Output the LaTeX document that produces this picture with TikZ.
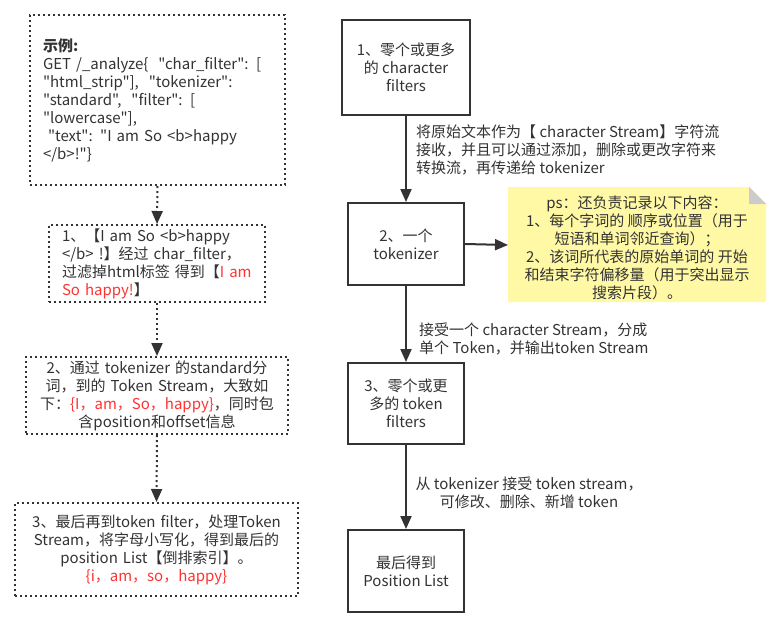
\documentclass[tikz,border=0pt]{standalone}
\usepackage{fontspec}
\setmainfont{Noto Sans CJK SC}[Ligatures=TeXOff]
\usetikzlibrary{arrows.meta,positioning}
\definecolor{txt}{HTML}{333333}
\definecolor{lin}{HTML}{333333}
\definecolor{redt}{HTML}{FF3333}
\definecolor{notey}{HTML}{FFF9A6}
\definecolor{foldg}{HTML}{CCCCCC}
\newcommand{\rd}[1]{\textcolor{redt}{#1}}
\tikzset{
  base/.style={font=\fontsize{15}{18}\selectfont, text=txt},
  dotbox/.style={base, draw=lin, line width=2pt, dash pattern=on 2pt off 3pt, inner sep=0pt},
  solidbox/.style={base, draw=lin, line width=2pt, align=center, inner sep=0pt},
  lbl/.style={base, inner sep=0pt},
  dotarrow/.style={draw=lin, line width=2pt, dash pattern=on 2pt off 3pt, -{Triangle[length=13pt,width=11pt]}},
  solarrow/.style={draw=lin, line width=2pt, -{Triangle[length=13pt,width=11pt]}},
}
\begin{document}
\begin{tikzpicture}[x=1pt,y=-1pt]
\useasboundingbox[fill=white] (0,0) rectangle (784,629);
% left column
\node[dotbox, minimum width=255pt, minimum height=170pt, text width=229pt, align=left] (l0) at (157.5,100)
 {\textbf{示例:}\\GET /\_analyze\{\ \ "char\_filter": [\\"html\_strip"],\ \ "tokenizer":\\"standard",\ \ "filter": [\\"lowercase"],\\\ "text": "I am So <b>happy\\</b>!"\}};
\node[dotbox, minimum width=216pt, minimum height=77pt, text width=190pt, align=left] (l1) at (157,263.5)
 {1、【I am So <b>happy\\</b> !】经过 char\_filter，\\过滤掉html标签 得到【\rd{I am}\\\rd{So happy!}】};
\node[dotbox, minimum width=262pt, minimum height=77pt, text width=256pt, align=center] (l2) at (157,395.5)
 {2、通过 tokenizer 的standard分\\词，到的 Token Stream，大致如\\下：\rd{\{I，am，So，happy\}}，同时包\\含position和offset信息};
\node[dotbox, minimum width=283pt, minimum height=93pt, text width=277pt, align=center] (l3) at (156.5,549.5)
 {3、最后再到token filter，处理Token\\Stream，将字母小写化，得到最后的\\position List【倒排索引】。\\\rd{\{i，am，so，happy\}}};
\draw[dotarrow] (l0.south) -- (l1.north);
\draw[dotarrow] (l1.south) -- (l2.north);
\draw[dotarrow] (l2.south) -- (l3.north);
% right column
\node[solidbox, minimum width=128pt, minimum height=95pt] (a) at (406,67.5) {1、零个或更多\\的 character\\filters};
\node[solidbox, minimum width=116pt, minimum height=82pt] (b) at (406,244) {2、一个\\tokenizer};
\node[solidbox, minimum width=116pt, minimum height=81pt] (c) at (406,403.5) {3、零个或更\\多的 token\\filters};
\node[solidbox, minimum width=116pt, minimum height=82pt] (d) at (406,571) {最后得到\\Position List};
% note
\coordinate (nw) at (508,187);
\coordinate (nfa) at (749,187);
\coordinate (nfb) at (766,204);
\coordinate (nse) at (766,302);
\fill[notey] (nw) -- (nfa) -- (nfb) -- (nse) -- (508,302) -- cycle;
\fill[foldg] (nfa) -- (nfb) -- (749,204) -- cycle;
\node[lbl, align=center] (note) at (637,247.5)
 {ps：还负责记录以下内容：\\1、每个字词的 顺序或位置（用于\\短语和单词邻近查询）；\\2、该词所代表的原始单词的 开始\\和结束字符偏移量（用于突出显示\\搜索片段）。};
\coordinate (notel) at (508,245);
% connectors
\draw[solarrow] (a.south -| b.north) -- (b.north);
\draw[solarrow] (b.south) -- (c.north);
\draw[solarrow] (c.south) -- (d.north);
\draw[solarrow] (b.east) -- (notel);
% labels
\node[lbl, anchor=west, align=left] (t1) at (416,150)
 {将原始文本作为【 character Stream】字符流\\接收，并且可以通过添加，删除或更改字符来\\转换流，再传递给 tokenizer};
\node[lbl, anchor=west, align=left] (t2) at (419,339)
 {接受一个 character Stream，分成\\单个 Token，并输出token Stream};
\node[lbl, align=center] (t3) at (529,492.5)
 {从 tokenizer 接受 token stream，\\可修改、删除、新增 token};
\end{tikzpicture}
\end{document}
